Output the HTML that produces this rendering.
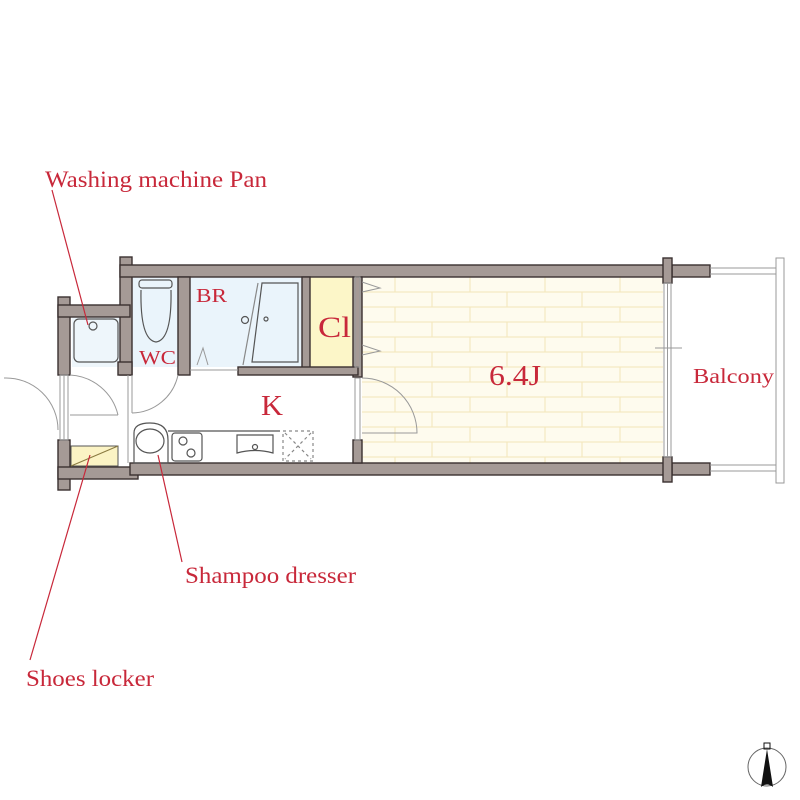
<!DOCTYPE html>
<html><head><meta charset="utf-8"><style>
html,body{margin:0;padding:0;background:#fff;}
svg{display:block;}
text{font-family:"Liberation Serif",serif;fill:#c8283a;}
</style></head><body>
<svg width="800" height="800" viewBox="0 0 800 800" xmlns="http://www.w3.org/2000/svg">
<rect x="132" y="277" width="46" height="90" fill="#eaf4fb"/>
<rect x="190" y="277" width="112" height="90" fill="#eaf4fb"/>
<rect x="310" y="277" width="43" height="90" fill="#fcf6c8"/>
<rect x="72" y="317" width="48" height="50" fill="#eef6fb"/>
<rect x="362" y="277" width="301" height="186" fill="#fefbee"/>
<g stroke="#f3e6b8" stroke-width="1">
<line x1="362" y1="292" x2="663" y2="292"/><line x1="362" y1="307" x2="663" y2="307"/>
<line x1="362" y1="322" x2="663" y2="322"/><line x1="362" y1="337" x2="663" y2="337"/>
<line x1="362" y1="352" x2="663" y2="352"/><line x1="362" y1="367" x2="663" y2="367"/>
<line x1="362" y1="382" x2="663" y2="382"/><line x1="362" y1="397" x2="663" y2="397"/>
<line x1="362" y1="412" x2="663" y2="412"/><line x1="362" y1="427" x2="663" y2="427"/>
<line x1="362" y1="442" x2="663" y2="442"/><line x1="362" y1="457" x2="663" y2="457"/>
<path d="M395 277v15M470 277v15M545 277v15M620 277v15 M432 292v15M507 292v15M582 292v15 M395 307v15M470 307v15M545 307v15M620 307v15 M432 322v15M507 322v15M582 322v15 M395 337v15M470 337v15M545 337v15M620 337v15 M432 352v15M507 352v15M582 352v15 M395 367v15M470 367v15M545 367v15M620 367v15 M432 382v15M507 382v15M582 382v15 M395 397v15M470 397v15M545 397v15M620 397v15 M432 412v15M507 412v15M582 412v15 M395 427v15M470 427v15M545 427v15M620 427v15 M432 442v15M507 442v15M582 442v15 M395 457v6M470 457v6M545 457v6M620 457v6"/>
</g>
<g fill="#a59a96" stroke="#3a3030" stroke-width="1.4">
<rect x="120" y="257" width="12" height="118"/>
<rect x="120" y="265" width="545" height="12"/>
<rect x="672" y="265" width="38" height="12"/>
<rect x="663" y="258" width="9" height="25"/>
<rect x="58" y="297" width="12" height="78"/>
<rect x="58" y="305" width="72" height="12"/>
<rect x="58" y="440" width="12" height="50"/>
<rect x="58" y="467" width="80" height="12"/>
<rect x="130" y="463" width="535" height="12"/>
<rect x="672" y="463" width="38" height="12"/>
<rect x="663" y="457" width="9" height="25"/>
<rect x="178" y="277" width="12" height="98"/>
<rect x="302" y="277" width="8" height="92"/>
<rect x="353" y="277" width="9" height="100"/>
<rect x="353" y="440" width="9" height="23"/>
<rect x="238" y="367" width="120" height="8"/>
<rect x="118" y="362" width="14" height="13"/>
</g>
<g fill="none" stroke="#999" stroke-width="1">
<rect x="664" y="283" width="7" height="174"/><line x1="667.5" y1="283" x2="667.5" y2="457"/>
<line x1="655" y1="348" x2="682" y2="348"/>
<line x1="710" y1="268" x2="776" y2="268"/><line x1="710" y1="274" x2="776" y2="274"/>
<line x1="710" y1="465" x2="776" y2="465"/><line x1="710" y1="471" x2="776" y2="471"/>
<rect x="776" y="258" width="8" height="225"/>
<rect x="60" y="375" width="8" height="65"/><line x1="64" y1="375" x2="64" y2="440"/>
<rect x="355" y="277" width="5" height="90"/>
<rect x="355" y="378" width="5" height="62"/>
<path d="M362 282 L380 288 L362 292"/><path d="M362 345 L380 351 L362 355"/>
<path d="M362 378 A55 55 0 0 1 417 433 L362 433"/>
<path d="M70 375 A52 52 0 0 1 118 415"/><line x1="70" y1="415" x2="118" y2="415"/>
<path d="M4 378 A52 52 0 0 1 58 430"/>
<path d="M178 375 A48 48 0 0 1 132 413"/><line x1="132" y1="375" x2="132" y2="413"/>
<line x1="128" y1="375" x2="128" y2="463"/>
<path d="M197 365 L203 348 L208 365"/>
<line x1="190" y1="370" x2="238" y2="370"/>
</g>
<g fill="none" stroke="#555" stroke-width="1.2">
<rect x="74" y="319" width="44" height="43" rx="5"/>
<circle cx="93" cy="326" r="4"/>
<rect x="139" y="280" width="33" height="8" rx="3"/>
<path d="M141 290 Q140 340 156 342 Q172 340 171 290"/>
<path d="M262 283 L298 283 L298 362 L252 362 Z"/>
<line x1="258" y1="283" x2="243" y2="365" stroke="#888"/>
<circle cx="245" cy="320" r="3.5"/><circle cx="266" cy="319" r="2"/>
<path d="M134 433 Q134 423 150 423 Q168 423 168 440 L168 463 L134 463 Z"/>
<ellipse cx="150" cy="441" rx="14" ry="12"/>
<rect x="172" y="433" width="30" height="28" rx="3"/>
<circle cx="183" cy="441" r="4"/><circle cx="191" cy="453" r="4"/>
<path d="M237 435 L273 435 L273 453 Q255 448 237 453 Z"/>
<circle cx="255" cy="447" r="2.5"/>
<line x1="168" y1="431" x2="280" y2="431"/>
<rect x="283" y="431" width="30" height="30" stroke-dasharray="3 3" stroke="#888"/>
<line x1="285" y1="433" x2="311" y2="459" stroke-dasharray="3 3" stroke="#888"/>
<line x1="311" y1="433" x2="285" y2="459" stroke-dasharray="3 3" stroke="#888"/>
</g>
<rect x="71" y="446" width="47" height="20" fill="#fbf3c4" stroke="#555"/>
<line x1="71" y1="466" x2="118" y2="446" stroke="#8a7a40"/>
<g stroke="#c8283a" stroke-width="1.2">
<line x1="52" y1="190" x2="88" y2="325"/>
<line x1="90" y1="455" x2="30" y2="660"/>
<line x1="158" y1="455" x2="182" y2="562"/>
</g>
<text x="45" y="187" font-size="23" textLength="222" lengthAdjust="spacingAndGlyphs">Washing machine Pan</text>
<text x="196" y="302" font-size="20" textLength="31" lengthAdjust="spacingAndGlyphs">BR</text>
<text x="139" y="364" font-size="20" textLength="37" lengthAdjust="spacingAndGlyphs">WC</text>
<text x="318" y="337" font-size="30" textLength="33" lengthAdjust="spacingAndGlyphs">Cl</text>
<text x="261" y="415" font-size="29" textLength="22" lengthAdjust="spacingAndGlyphs">K</text>
<text x="489" y="385" font-size="29" textLength="52" lengthAdjust="spacingAndGlyphs">6.4J</text>
<text x="693" y="383" font-size="21" textLength="81" lengthAdjust="spacingAndGlyphs">Balcony</text>
<text x="185" y="583" font-size="23" textLength="171" lengthAdjust="spacingAndGlyphs">Shampoo dresser</text>
<text x="26" y="686" font-size="23" textLength="128" lengthAdjust="spacingAndGlyphs">Shoes locker</text>
<circle cx="767" cy="767" r="19" fill="none" stroke="#666" stroke-width="1"/>
<path d="M767 749 L761 787 Q767 782 773 787 Z" fill="#111"/>
<rect x="764" y="743" width="6" height="6" fill="none" stroke="#111"/>
</svg>
</body></html>
